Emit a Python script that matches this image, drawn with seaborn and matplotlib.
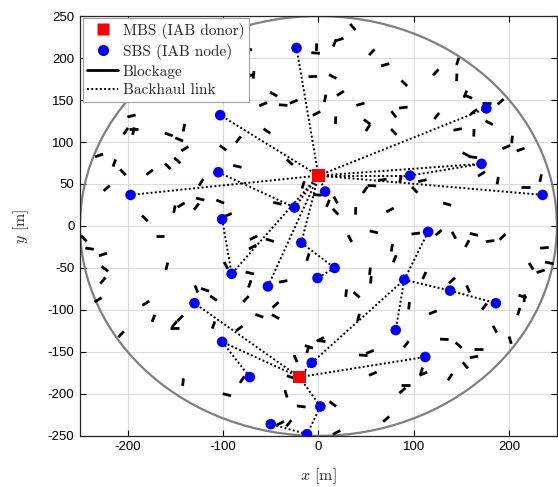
import numpy as np
import pandas as pd
import matplotlib
matplotlib.use("Agg")
import matplotlib.pyplot as plt
import seaborn as sns
from matplotlib.patches import Circle
from matplotlib.lines import Line2D
from matplotlib.collections import LineCollection

sns.set_theme(style="whitegrid")
plt.rcParams['font.family'] = ['Liberation Sans', 'DejaVu Sans']
plt.rcParams['mathtext.fontset'] = 'cm'

# --- data (metres) ---
cell_radius = 250

mbs_x = [0, -20]
mbs_y = [60, -180]

sbs_x = [-23, -103, -105, -197, -101, -91, -53, -18, -25, 7, 17, -1, 176, 171, 96,
         235, 115, 90, 138, 186, 81, 112, -130, -101, -72, -7, 2, -50, -12]
sbs_y = [212, 132, 64, 37, 8, -57, -72, -20, 22, 41, -50, -62, 140, 74, 60,
         37, -7, -64, -77, -92, -124, -156, -92, -138, -180, -163, -215, -236, -248]

# backhaul links: M1/M2 = MBS, S1..S29 = SBS
links = [("M1", "S1"), ("M1", "S2"), ("M1", "S4"), ("M1", "S9"), ("S3", "S9"),
         ("M1", "S6"), ("M1", "S7"), ("M1", "S8"), ("M1", "S10"), ("S8", "S11"),
         ("S11", "S12"), ("S5", "S6"), ("M1", "S13"), ("M1", "S14"), ("M1", "S15"),
         ("S15", "S14"), ("M1", "S16"),
         ("M2", "S26"), ("S26", "S18"), ("S18", "S17"), ("S18", "S19"), ("S19", "S20"),
         ("S18", "S21"), ("M2", "S22"), ("M2", "S23"), ("M2", "S24"), ("S24", "S25"),
         ("M2", "S27"), ("S27", "S29"), ("S29", "S28")]

# blockages: centre x, centre y, orientation (deg)
block_x = [-196, 36, -2, -3, 17, 22, 56, 70, -6, 15, -68, -72, -74, -47, -58, -37, -26, 7, 23, -2,
           18, 44, 51, 79, 146, 145, 123, 90, 157, 154, 191, 176, 163, 89, 124, 179,
           -202, -194, -194, -141, -157, -146, -140, -230, -214, -205, -177, -158, -148, -100,
           -85, -222, -123, -124, -103, -151, -144, -128, -182, -95,
           -54, -84, -30, 52, 79, -16, -1, -43, 10, 18, 49, 56, 67, 18, 39, 75,
           146, 163, 203, 197, 212, 155, 162, 171, 188, 233, 217, 109, 101, 86, 135,
           -166, -240, -226, -224, -226, -231, -159, -246, -181, -173, -151, -151, -145,
           -128, -119, -110, -97, -110, -207,
           -68, -69, -51, -11, -72, -72, -37, -76, -45, -62, -45, -83, 33, 58, 77, 80,
           54, 55, 29, 40, 42,
           102, 126, 142, 163, 156, 180, 193, 237, 223, 233, 242, 111, 140, 157, 214,
           216, 174, 210, 95, 120, 185,
           -142, -96,
           2, 3, -10, -11, -24, -29, -34, -18, 15, -80, -40, -31, 19, 47, 54, 57, 71,
           132, 147, 168, 163, 154, 138, 201, 110, 108, 91, 88, 92]
block_y = [131, 237, 213, 206, 218, 222, 207, 192, 178, 178, 180, 179, 209, 157, 145, 144, 148, 152, 158, 134,
           126, 145, 124, 133, 196, 177, 183, 170, 154, 157, 148, 147, 136, 141, 131, 123,
           113, 116, 113, 117, 109, 103, 92, 84, 75, 64, 64, 71, 78, 93,
           71, 45, 52, 32, 29, 20, 25, 23, 9, 13,
           113, 103, 76, 117, 112, 49, 37, 27, 27, 31, 43, 48, 55, 17, 18, 19,
           115, 111, 103, 94, 91, 85, 82, 62, 54, 57, 46, 54, 43, 56, 26,
           -12, -27, -34, -51, -65, -88, -48, -15, -92, -110, -117, -122, -110,
           -75, -76, -86, -47, -118, -129,
           -14, -25, -17, -37, -56, -69, -66, -87, -94, -107, -108, -122, -15, -7, -26, -39,
           -54, -64, -80, -82, -109,
           -9, -8, -11, -10, -21, -18, -13, -26, -48, -54, -44, -59, -65, -75, -84,
           -86, -96, -102, -95, -103, -123,
           -186, -201,
           -135, -137, -144, -147, -158, -180, -200, -215, -212, -183, -235, -235, -246, -154, -150, -176, -230,
           -135, -142, -146, -156, -166, -180, -136, -176, -173, -189, -196, -141]
block_ang = [15, -53, 88, -5, 70, 20, 50, 18, 3, -30, 85, 20, 20, -33, 25, -5, 25, 80, 35, 30,
             88, 18, -40, -55, 75, 88, 50, -48, -25, 70, 45, 0, 40, 8, 55, -30,
             60, 0, 80, 80, -22, -25, 35, 22, 72, -50, 40, -48, -45, -40,
             -15, 45, 60, -15, -25, 80, 35, 55, -48, 25,
             -38, 55, -45, 60, -50, 75, -5, -15, 70, -65, 58, -3, 10, -50, 88, 30,
             12, 88, 85, 25, 22, -30, -8, 35, 82, 80, 0, 15, -50, 80, -18,
             0, -10, 20, -40, 55, 35, 78, -50, 35, 70, 55, 0, 50,
             -70, -20, -38, -65, 72, 50,
             30, 30, -20, 75, -15, 72, 12, 50, 45, -22, -33, 40, -65, -15, 82, 70,
             85, 85, 85, -45, 78,
             8, 45, -65, -15, 65, 8, 48, 5, -62, 20, -12, 68, 45, -70, -20,
             85, 55, 75, 85, 25, -65,
             85, -15,
             30, -10, -20, 75, -70, -20, -75, -8, -40, 60, 30, 55, 30, -5, 25, 25, 45,
             -3, -45, 0, 12, -52, 60, -75, 25, 75, 0, 45, 55]
block_len = 9

# --- build tables ---
nodes = {f"M{i + 1}": (x, y) for i, (x, y) in enumerate(zip(mbs_x, mbs_y))}
nodes.update({f"S{i + 1}": (x, y) for i, (x, y) in enumerate(zip(sbs_x, sbs_y))})
df_mbs = pd.DataFrame({"x": mbs_x, "y": mbs_y})
df_sbs = pd.DataFrame({"x": sbs_x, "y": sbs_y})

th = np.deg2rad(block_ang)
hx = 0.5 * block_len * np.cos(th)
hy = 0.5 * block_len * np.sin(th)
bx, by = np.array(block_x), np.array(block_y)
block_segs = [[(x - dx, y - dy), (x + dx, y + dy)] for x, y, dx, dy in zip(bx, by, hx, hy)]

# --- plot ---
fig = plt.figure(figsize=(5.58, 4.87), dpi=100)
ax = fig.add_axes([0.1434, 0.105, 0.8546, 0.862])

ax.add_patch(Circle((0, 0), cell_radius, fill=False, edgecolor="#7f7f7f", lw=1.6, zorder=2))
ax.add_collection(LineCollection(block_segs, colors="black", linewidths=2.0, zorder=3))

for a, b in links:
    (x1, y1), (x2, y2) = nodes[a], nodes[b]
    ax.plot([x1, x2], [y1, y2], color="black", ls=(0, (1, 1.2)), lw=1.4, zorder=4)

sns.scatterplot(data=df_sbs, x="x", y="y", ax=ax, color="#0000ff", marker="o",
                s=58, edgecolor="none", zorder=5, legend=False)
sns.scatterplot(data=df_mbs, x="x", y="y", ax=ax, color="#ff0000", marker="s",
                s=80, edgecolor="none", zorder=6, legend=False)

ax.set_xlim(-250, 250)
ax.set_ylim(-250, 250)
ax.set_xticks([-200, -100, 0, 100, 200])
ax.set_yticks(np.arange(-250, 251, 50))
ax.set_xticklabels(["-200", "-100", "0", "100", "200"])
ax.set_yticklabels([str(v) for v in np.arange(-250, 251, 50)])
ax.tick_params(direction="in", length=4, width=0.8, top=True, right=True,
               bottom=True, left=True, labelsize=9.5, colors="black", pad=4)
ax.grid(True, color="#dcdcdc", lw=0.8)
ax.set_facecolor("white")
for sp in ax.spines.values():
    sp.set_color("#262626")
    sp.set_linewidth(0.9)

ax.set_xlabel(r"$x$ [m]", fontfamily="cmr10", fontsize=11.5, labelpad=9)
ax.set_ylabel(r"$y$ [m]", fontfamily="cmr10", fontsize=11.5, labelpad=12)

handles = [
    Line2D([], [], color="#ff0000", marker="s", ls="none", markersize=9, markeredgecolor="none"),
    Line2D([], [], color="#0000ff", marker="o", ls="none", markersize=8, markeredgecolor="none"),
    Line2D([], [], color="black", lw=2.0),
    Line2D([], [], color="black", lw=1.4, ls=(0, (1, 1.2))),
]
labels = ["MBS (IAB donor)", "SBS (IAB node)", "Blockage", "Backhaul link"]
leg = ax.legend(handles, labels, loc="upper left", bbox_to_anchor=(0.006, 0.995),
                prop={"family": "cmr10", "size": 11}, frameon=True, fancybox=False,
                framealpha=1, edgecolor="#a0a0a0", borderpad=0.3, labelspacing=0.32,
                handlelength=2.0, handletextpad=0.3, borderaxespad=0)
leg.get_frame().set_linewidth(0.8)
leg.set_zorder(10)

fig.savefig("out.png", dpi=100)
